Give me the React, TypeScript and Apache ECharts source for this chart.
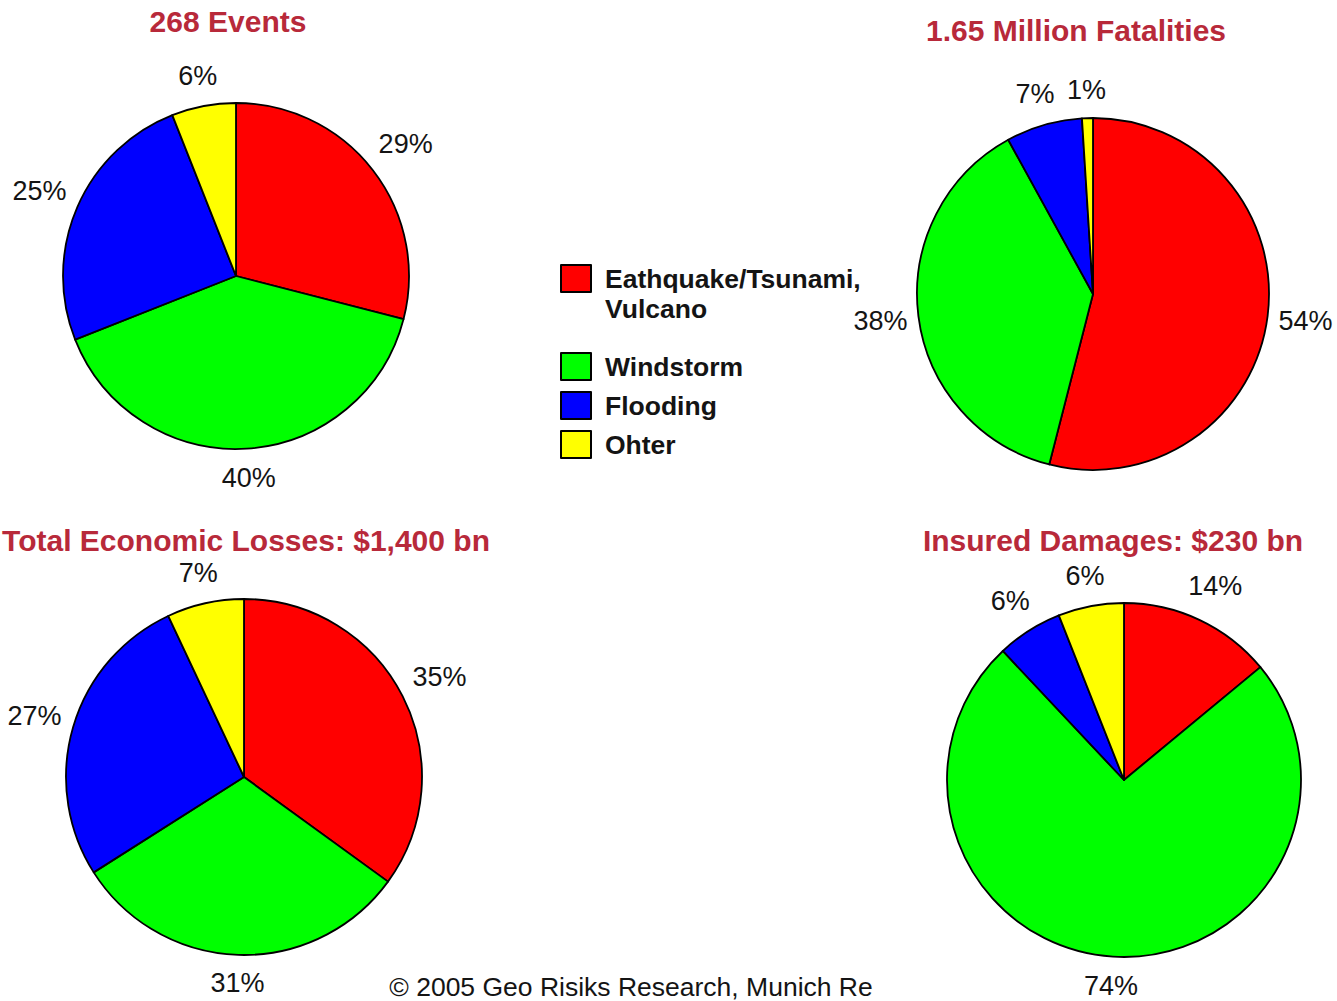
import React, { useEffect, useRef } from 'react';
import * as echarts from 'echarts';

const categories = ['Eathquake/Tsunami, Vulcano', 'Windstorm', 'Flooding', 'Ohter'];
const sliceColors = ['#FF0000', '#00FF00', '#0000FF', '#FFFF00'];
const eventsShare = [29, 40, 25, 6];
const fatalitiesShare = [54, 38, 7, 1];
const economicShare = [35, 31, 27, 7];
const insuredShare = [14, 74, 6, 6];
const chartTitles = [
  '268 Events',
  '1.65 Million Fatalities',
  'Total Economic Losses: $1,400 bn',
  'Insured Damages: $230 bn',
];
const sourceNote = '\u00A9 2005 Geo Risiks Research, Munich Re';

const FONT = '"Liberation Sans", Arial, Helvetica, sans-serif';
const TITLE_COLOR = '#B8293A';
const TEXT_COLOR = '#141414';

// layout for each pie: center, radius, title position
const pieLayout = [
  { cx: 236, cy: 276, r: 173, tx: 228, ty: 21, values: eventsShare },
  { cx: 1093, cy: 294, r: 176, tx: 1076, ty: 30, values: fatalitiesShare },
  { cx: 244, cy: 777, r: 178, tx: 246, ty: 540, values: economicShare },
  { cx: 1124, cy: 780, r: 177, tx: 1113, ty: 540, values: insuredShare },
];

const LABEL_GAP = 9;
const LABEL_HALF_H = 18.5;

function buildOption() {
  const series: any[] = pieLayout.map((p) => ({
    type: 'pie',
    center: [p.cx, p.cy],
    radius: p.r,
    startAngle: 90,
    clockwise: true,
    silent: true,
    emphasis: { disabled: true },
    avoidLabelOverlap: false,
    label: {
      show: true,
      position: 'inside',
      formatter: '{c}%',
      color: TEXT_COLOR,
      fontSize: 27,
      fontFamily: FONT,
    },
    labelLine: { show: false },
    // move each label just outside the rim, along the slice's mid direction
    labelLayout: (params: any) => {
      const lr = params.labelRect;
      const lx = lr.x + lr.width / 2;
      const ly = lr.y + lr.height / 2;
      const vx = lx - p.cx;
      const vy = ly - p.cy;
      const len = Math.sqrt(vx * vx + vy * vy) || 1;
      const dx = vx / len;
      const dy = vy / len;
      const d = p.r + LABEL_GAP + Math.abs(dx) * (lr.width / 2) + Math.abs(dy) * LABEL_HALF_H;
      return {
        x: p.cx + dx * d,
        y: p.cy + dy * d,
        align: 'center',
        verticalAlign: 'middle',
      };
    },
    itemStyle: { borderColor: '#000', borderWidth: 1.8 },
    data: categories.map((name, i) => ({
      name,
      value: p.values[i],
      itemStyle: { color: sliceColors[i] },
    })),
  }));

  const legendText = {
    fontSize: 26.5,
    fontWeight: 'bold',
    fontFamily: FONT,
    color: TEXT_COLOR,
    padding: [0, 0, 5, 9],
  };

  const graphic: any[] = chartTitles.map((t, i) => ({
    type: 'text',
    x: pieLayout[i].tx,
    y: pieLayout[i].ty,
    silent: true,
    style: {
      text: t,
      align: 'center',
      verticalAlign: 'middle',
      textAlign: 'center',
      textVerticalAlign: 'middle',
      fill: TITLE_COLOR,
      font: `bold 30px ${FONT}`,
    },
  }));
  graphic.push({
    type: 'text',
    x: 631,
    y: 987,
    silent: true,
    style: {
      text: sourceNote,
      align: 'center',
      verticalAlign: 'middle',
      textAlign: 'center',
      textVerticalAlign: 'middle',
      fill: TEXT_COLOR,
      font: `26.5px ${FONT}`,
    },
  });

  return {
    animation: false,
    backgroundColor: '#ffffff',
    legend: [
      {
        data: [categories[0]],
        orient: 'vertical',
        left: 560,
        top: 231,
        padding: 0,
        icon: 'rect',
        itemWidth: 30,
        itemHeight: 27,
        selectedMode: false,
        formatter: (name: string) => ' \n' + name.replace(', ', ',\n'),
        textStyle: { ...legendText, lineHeight: 30 },
        itemStyle: { borderColor: '#000', borderWidth: 2 },
      },
      {
        data: categories.slice(1),
        orient: 'vertical',
        left: 560,
        top: 350.5,
        padding: 0,
        icon: 'rect',
        itemWidth: 30,
        itemHeight: 27,
        itemGap: 7,
        selectedMode: false,
        textStyle: { ...legendText, lineHeight: 27 },
        itemStyle: { borderColor: '#000', borderWidth: 2 },
      },
    ],
    graphic,
    series,
  };
}

export default function App() {
  const ref = useRef<HTMLDivElement>(null);
  useEffect(() => {
    document.body.style.margin = '0';
    if (!ref.current) return;
    const chart = echarts.init(ref.current, undefined, { renderer: 'svg' });
    chart.setOption(buildOption() as any);
    return () => chart.dispose();
  }, []);
  return (
    <div
      ref={ref}
      style={{ position: 'absolute', left: 0, top: 0, width: 1337, height: 1001, background: '#fff' }}
    />
  );
}
